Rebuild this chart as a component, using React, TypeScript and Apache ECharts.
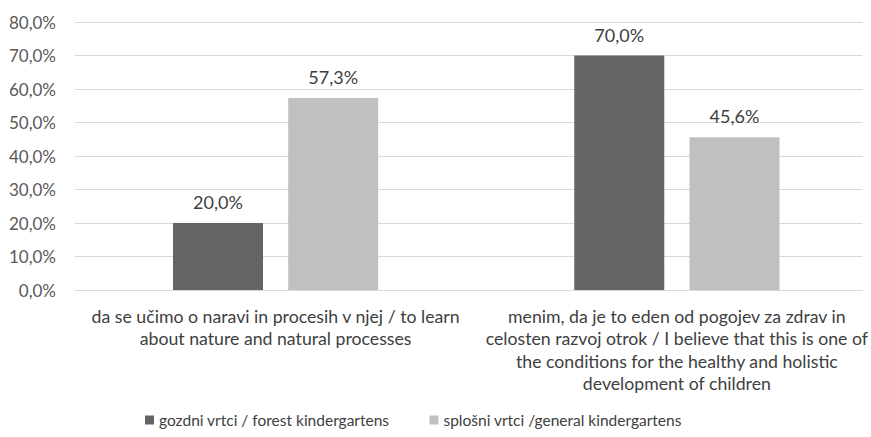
import React, { useEffect, useRef } from "react";
import * as echarts from "echarts";

const categories = [
  "da se učimo o naravi in procesih v njej / to learn\nabout nature and natural processes",
  "menim, da je to eden od pogojev za zdrav in\ncelosten razvoj otrok / I believe that this is one of\nthe conditions for the healthy and holistic\ndevelopment of children",
];
const categoryIndex = [0, 1];
const seriesNames = ["gozdni vrtci / forest kindergartens", "splošni vrtci /general kindergartens"];
const forestValues = [20.0, 70.0];
const generalValues = [57.3, 45.6];
const yTicks = { min: 0, max: 80, interval: 10 };

const fmt = (v: number) => v.toFixed(1).replace(".", ",") + "%";
const FONT = "Lato";

export default function App() {
  const ref = useRef<HTMLDivElement>(null);
  useEffect(() => {
    if (!ref.current) return;
    const chart = echarts.init(ref.current, undefined, { renderer: "svg" });
    const labelStyle = {
      show: true,
      position: "top",
      distance: 12,
      formatter: (p: any) => fmt(p.value[1]),
      fontFamily: FONT,
      fontSize: 18,
      color: "#404040",
    };
    chart.setOption({
      animation: false,
      backgroundColor: "#ffffff",
      textStyle: { fontFamily: FONT },
      grid: { left: 75, right: 0, top: 22, bottom: 147, containLabel: false },
      legend: {
        left: 145,
        top: 412,
        padding: 0,
        itemWidth: 9,
        itemHeight: 9,
        itemGap: 40,
        icon: "rect",
        textStyle: { fontFamily: FONT, fontSize: 15.5, color: "#404040" },
        data: seriesNames,
      },
      xAxis: {
        type: "value",
        min: -0.5,
        max: 1.463,
        axisLine: { show: true, lineStyle: { color: "#d9d9d9" } },
        axisTick: { show: false },
        splitLine: { show: false },
        axisLabel: {
          customValues: categoryIndex,
          formatter: (v: number) => categories[Math.round(v)] ?? "",
          margin: 15,
          fontFamily: FONT,
          fontSize: 17.7,
          lineHeight: 22.5,
          color: "#404040",
          align: "center",
          showMinLabel: true,
          showMaxLabel: true,
        },
      },
      yAxis: {
        type: "value",
        min: yTicks.min,
        max: yTicks.max,
        interval: yTicks.interval,
        axisLine: { show: false },
        axisTick: { show: false },
        splitLine: { lineStyle: { color: "#d9d9d9", width: 1 } },
        axisLabel: {
          formatter: (v: number) => fmt(v),
          fontFamily: FONT,
          fontSize: 17,
          color: "#595959",
          margin: 19,
        },
      },
      series: [
        {
          name: seriesNames[0],
          type: "bar",
          data: categoryIndex.map((i) => [i, forestValues[i]]),
          barWidth: 90,
          barGap: "28%",
          itemStyle: { color: "#646464" },
          label: labelStyle,
        },
        {
          name: seriesNames[1],
          type: "bar",
          data: categoryIndex.map((i) => [i, generalValues[i]]),
          barWidth: 90,
          barGap: "28%",
          itemStyle: { color: "#c0c0c0" },
          label: labelStyle,
        },
      ],
    });
    return () => chart.dispose();
  }, []);
  return <div ref={ref} style={{ position: "absolute", left: 0, top: 0, width: 871, height: 437 }} />;
}
